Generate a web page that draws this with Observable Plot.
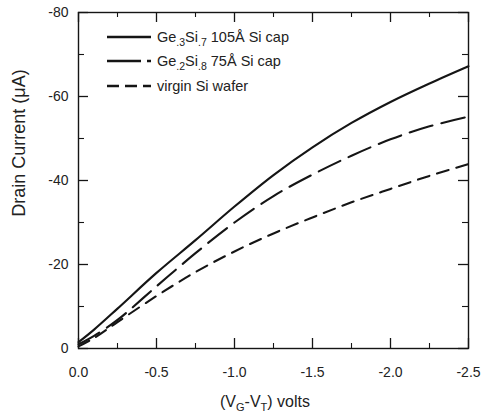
<!DOCTYPE html>
<html><head><meta charset="utf-8">
<script src="https://cdn.jsdelivr.net/npm/d3@7"></script>
<script src="https://cdn.jsdelivr.net/npm/@observablehq/plot@0.6"></script>
<style>
body{margin:0;background:#fff;}
#chart svg{font-family:Arial,"Liberation Sans",Helvetica,sans-serif;}
</style>
</head><body><div id="chart"></div>
<script>
// Data
const voltage    = [0, -0.1, -0.25, -0.5, -0.75, -1.0, -1.25, -1.5, -1.75, -2.0, -2.25, -2.5];
const ge3Current = [-1.5, -4.5, -9.5, -18.0, -25.8, -33.8, -41.3, -47.9, -53.7, -58.7, -63.1, -67.2];
const ge2Current = [-1.0, -3.0, -6.8, -14.8, -22.7, -30.0, -36.3, -41.4, -45.9, -49.8, -52.9, -55.2];
const siCurrent  = [-0.5, -2.5, -6.3, -12.5, -18.2, -23.1, -27.4, -31.2, -34.8, -38.0, -41.1, -43.9];
const xMajor = [0, -0.5, -1.0, -1.5, -2.0, -2.5];
const xMinor = [-0.25, -0.75, -1.25, -1.75, -2.25];
const yMajor = [0, -20, -40, -60, -80];
const yMinor = [-10, -30, -50, -70];
const legendLabels = [
  [["Ge",""],[".3","sub"],["Si",""],[".7","sub"],[" 105Å Si cap",""]],
  [["Ge",""],[".2","sub"],["Si",""],[".8","sub"],[" 75Å Si cap",""]],
  [["virgin Si wafer",""]]
];
const dashes = [null, "24,9", "12,8"];
const legendDashes = [null, "34,6", "12,6"];

const W = 481, H = 418;
const mT = 12, mB = 70, mL = 78, mR = 13;
const innerW = W - mL - mR, innerH = H - mT - mB;

const series = [ge3Current, ge2Current, siCurrent].map(arr =>
  voltage.map((v, i) => ({v, c: arr[i]})));

const ink = "#151515";
const fmtX = d => d3.format(".1f")(d).replace("\u2212", "-");

const lineMarks = series.map((data, k) => Plot.line(data, {
  x: "v", y: "c", curve: "catmull-rom",
  stroke: ink, strokeWidth: 2.1,
  strokeDasharray: dashes[k] ?? undefined
}));

const plot = Plot.plot({
  width: W, height: H,
  marginTop: mT, marginBottom: mB, marginLeft: mL, marginRight: mR,
  style: {fontFamily: 'Arial,"Liberation Sans",sans-serif', background: "#fff", color: ink},
  x: {domain: [0, -2.5]},
  y: {domain: [0, -80]},
  marks: [
    Plot.frame({stroke: ink, strokeWidth: 1.4}),
    Plot.ruleX(xMajor, {stroke: ink, strokeWidth: 1.3, insetTop: innerH - 10}),
    Plot.ruleX(xMajor, {stroke: ink, strokeWidth: 1.3, insetBottom: innerH - 10}),
    Plot.ruleX(xMinor, {stroke: ink, strokeWidth: 1.1, insetTop: innerH - 5}),
    Plot.ruleX(xMinor, {stroke: ink, strokeWidth: 1.1, insetBottom: innerH - 5}),
    Plot.ruleY(yMajor, {stroke: ink, strokeWidth: 1.3, insetRight: innerW - 10}),
    Plot.ruleY(yMajor, {stroke: ink, strokeWidth: 1.3, insetLeft: innerW - 10}),
    Plot.ruleY(yMinor, {stroke: ink, strokeWidth: 1.1, insetRight: innerW - 6}),
    Plot.ruleY(yMinor, {stroke: ink, strokeWidth: 1.1, insetLeft: innerW - 6}),
    Plot.axisX(xMajor, {tickSize: 0, tickPadding: 19, tickFormat: fmtX, fontSize: 14, fill: "#222", label: null}),
    Plot.axisY(yMajor, {tickSize: 0, tickPadding: 10, tickFormat: d => String(d), fontSize: 14, fill: "#222", label: null}),
    ...lineMarks
  ]
});

const svg = d3.select(plot);

// Axis titles
const xt = svg.append("text")
  .attr("x", 265).attr("y", 407)
  .attr("text-anchor", "middle")
  .attr("font-size", 16).attr("fill", "#222");
[["(V",""],["G","sub"],["-V",""],["T","sub"],[") volts",""]].forEach(([t, s]) => {
  const ts = xt.append("tspan").text(t);
  if (s === "sub") ts.attr("font-size", 11).attr("baseline-shift", "-4");
});

svg.append("text")
  .attr("transform", "translate(25,143) rotate(-90)")
  .attr("text-anchor", "middle")
  .attr("font-size", 18).attr("fill", "#222")
  .text("Drain Current (\u03BCA)");

// Legend
const legendRows = [37, 61, 86];
legendLabels.forEach((parts, k) => {
  const y = legendRows[k];
  const ln = svg.append("line")
    .attr("x1", 107).attr("x2", 151).attr("y1", y).attr("y2", y)
    .attr("stroke", ink).attr("stroke-width", 2.6);
  if (legendDashes[k]) ln.attr("stroke-dasharray", legendDashes[k]);
  const tx = svg.append("text")
    .attr("x", 157).attr("y", y + 5)
    .attr("text-anchor", "start")
    .attr("font-size", 14.5).attr("fill", "#222");
  parts.forEach(([t, s]) => {
    const ts = tx.append("tspan").text(t);
    if (s === "sub") ts.attr("font-size", 10.5).attr("baseline-shift", "-4");
  });
});

document.getElementById("chart").appendChild(plot);
</script>
</body></html>
